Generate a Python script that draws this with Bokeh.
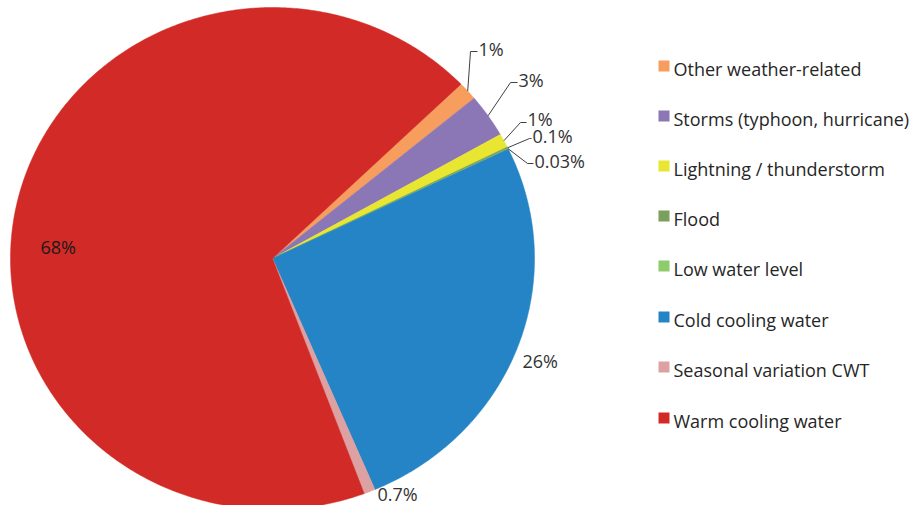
import numpy as np
from bokeh.plotting import figure
from bokeh.models import Range1d
from bokeh.core.properties import value
from bokeh.embed import file_html
from bokeh.resources import INLINE

# ---- data ----
categories = ["Other weather-related", "Storms (typhoon, hurricane)", "Lightning / thunderstorm",
              "Flood", "Low water level", "Cold cooling water", "Seasonal variation CWT",
              "Warm cooling water"]
shares = [1.2, 2.8, 0.9, 0.1, 0.03, 25.8, 0.7, 68.47]
share_labels = ["1%", "3%", "1%", "0.1%", "0.03%", "26%", "0.7%", "68%"]
colors = ["#F79E5F", "#8B76B6", "#E9E631", "#7A9E5B", "#8DCB6B", "#2484C6", "#DDA1A1", "#D22A26"]

# ---- layout (pixel units) ----
W, H = 912, 505
cx, cy, rx, ry = 272, 258, 262, 251
start_deg = 46.0

p = figure(width=W, height=H, output_backend="svg", toolbar_location=None,
           x_range=Range1d(0, W), y_range=Range1d(H, 0),
           min_border=0, outline_line_color=None)
p.axis.visible = False
p.grid.visible = False
p.background_fill_color = "white"
p.border_fill_color = "white"

vals = np.array(shares, dtype=float)
frac = vals / vals.sum()
edges = start_deg + 360 * np.concatenate([[0], np.cumsum(frac)])

xs, ys, mids = [], [], []
for i in range(len(vals)):
    a0, a1 = edges[i], edges[i + 1]
    n = max(3, int((a1 - a0) * 2))
    t = np.radians(np.linspace(a0, a1, n))
    px = np.concatenate([[cx], cx + rx * np.sin(t), [cx]])
    py = np.concatenate([[cy], cy - ry * np.cos(t), [cy]])
    xs.append(list(px))
    ys.append(list(py))
    mids.append((a0 + a1) / 2)

p.patches(xs=xs, ys=ys, fill_color=colors, line_color=colors, line_width=0.5)

# leader lines for small slices
bends = [(470, 51), (510, 82), (520, 122), (529, 138), (527, 163)]
ends = [(477, 51), (517, 82), (526, 122), (531, 138), (533, 163)]
for i in range(5):
    m = np.radians(mids[i])
    sx = cx + rx * np.sin(m)
    sy = cy - ry * np.cos(m)
    p.line([sx, bends[i][0], ends[i][0]], [sy, bends[i][1], ends[i][1]],
           line_color="#404040", line_width=1)

lab_x = [478, 518, 527, 532, 534, 522, 377, 40]
lab_y = [48, 79, 118, 135, 160, 360, 493, 246]
lab_col = ["#333333"] * 7 + ["#1a1a1a"]
p.text(x=lab_x, y=lab_y, text=share_labels, text_font=value("Open Sans"),
       text_font_size="18px", text_color=lab_col,
       text_baseline="middle", text_align="left")

# legend
leg_y = [68, 118, 168, 218, 268, 319, 369, 420]
p.scatter(x=[663.5] * len(categories), y=[v - 2.5 for v in leg_y], marker="square",
          size=11, fill_color=colors, line_color=None)
p.text(x=[673] * len(categories), y=leg_y, text=categories, text_font=value("Open Sans"),
       text_font_size="18px", text_color="#262626",
       text_baseline="middle", text_align="left")

open("out.html", "w").write(file_html(p, INLINE))
